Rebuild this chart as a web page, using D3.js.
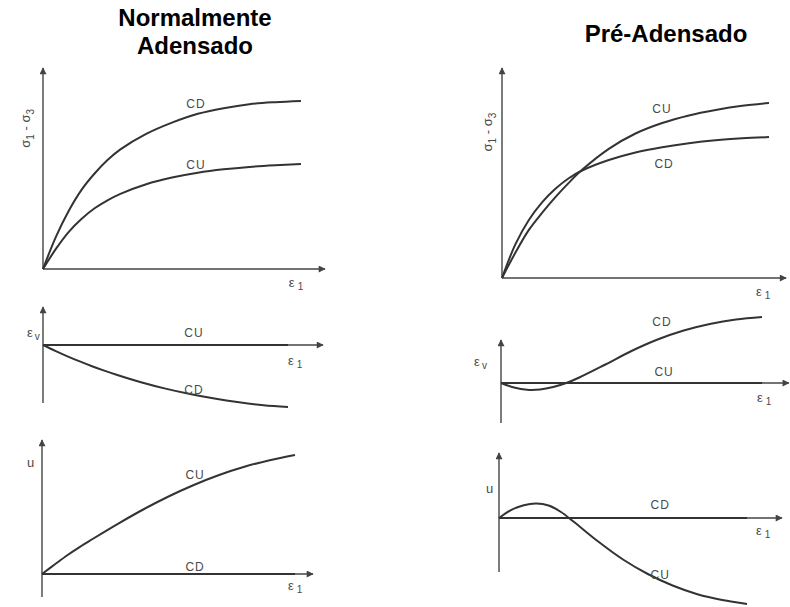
<!DOCTYPE html>
<html>
<head>
<meta charset="utf-8">
<script src="https://cdn.jsdelivr.net/npm/d3@7"></script>
<style>
  html, body { margin: 0; padding: 0; background: #fff; }
  svg { display: block; font-family: "Liberation Sans", Arial, Helvetica, sans-serif; }
  .title { font-weight: bold; font-size: 24px; fill: #000; }
  .curve-label { font-size: 12px; fill: #4a4a4a; letter-spacing: 1px; }
  .axis-label { font-size: 13px; fill: #4a4a4a; }
</style>
</head>
<body>
<div id="chart"></div>
<script>
// axial strain samples (arbitrary units, same for every panel)
const strain = [0, 0.5, 1, 1.5, 2, 2.5, 3, 4, 5, 6, 7, 8, 9, 10];

// Normalmente adensado
const ncDeviatorCD = [0, 1.6, 2.9, 3.95, 4.75, 5.42, 5.95, 6.72, 7.28, 7.72, 8.0, 8.2, 8.3, 8.36];
const ncDeviatorCU = [0, 1.0, 1.85, 2.5, 3.02, 3.42, 3.74, 4.22, 4.55, 4.79, 4.96, 5.08, 5.16, 5.22];
const ncVolumeCU   = [0, 0, 0, 0, 0, 0, 0, 0, 0, 0, 0, 0, 0, 0];
const ncVolumeCD   = [0, -0.58, -1.13, -1.64, -2.12, -2.56, -2.97, -3.72, -4.36, -4.9, -5.36, -5.73, -6.02, -6.2];
const ncPoreCU     = [0, 0.95, 1.88, 2.72, 3.5, 4.27, 5.02, 6.45, 7.75, 8.9, 9.9, 10.72, 11.38, 11.9];
const ncPoreCD     = [0, 0, 0, 0, 0, 0, 0, 0, 0, 0, 0, 0, 0, 0];

// Pré-adensado
const ocDeviatorCU = [0, 1.2, 2.28, 3.1, 3.85, 4.53, 5.15, 6.15, 6.88, 7.38, 7.74, 8.0, 8.2, 8.33];
const ocDeviatorCD = [0, 1.6, 2.75, 3.6, 4.25, 4.75, 5.12, 5.62, 5.98, 6.23, 6.42, 6.56, 6.65, 6.71];
const ocVolumeCD   = [0, -0.45, -0.68, -0.65, -0.4, 0, 0.55, 1.85, 3.2, 4.35, 5.25, 5.9, 6.35, 6.6];
const ocVolumeCU   = [0, 0, 0, 0, 0, 0, 0, 0, 0, 0, 0, 0, 0, 0];
const ocPoreCD     = [0, 0, 0, 0, 0, 0, 0, 0, 0, 0, 0, 0, 0, 0];
const ocPoreCU     = [0, 0.82, 1.28, 1.44, 1.25, 0.6, -0.35, -2.35, -4.15, -5.6, -6.75, -7.62, -8.2, -8.6];

const titles = [["Normalmente", "Adensado"], ["Pré-Adensado"]];
const seriesNames = ["CD", "CU"];

const width = 790, height = 607;

const svg = d3.select("#chart")
    .append("svg")
    .attr("width", width)
    .attr("height", height);

// arrow head for the axes
svg.append("defs").append("marker")
    .attr("id", "arrow")
    .attr("viewBox", "0 0 10 10")
    .attr("refX", 9)
    .attr("refY", 5)
    .attr("markerWidth", 9)
    .attr("markerHeight", 7)
    .attr("markerUnits", "userSpaceOnUse")
    .attr("orient", "auto")
    .append("path")
    .attr("d", "M0,0 L10,5 L0,10 z")
    .attr("fill", "#444");

// titles
svg.append("text").attr("class", "title").attr("text-anchor", "middle")
    .attr("x", 195).attr("y", 26).text(titles[0][0]);
svg.append("text").attr("class", "title").attr("text-anchor", "middle")
    .attr("x", 195).attr("y", 54).text(titles[0][1]);
svg.append("text").attr("class", "title").attr("text-anchor", "middle")
    .attr("x", 666).attr("y", 42).text(titles[1][0]);

// one entry per small diagram; positions in pixels, label spots in data units
const panels = [
    { ox: 43, oy: 269, x10: 301, y10: 68, xMax: 10.93, yMin: 0, yMax: 10, yLabel: "dev",
      yLab: [-0.52, 7.0], xLab: [9.53, -0.9],
      series: [{ name: seriesNames[0], values: ncDeviatorCD, lab: [5.93, 8.0] },
               { name: seriesNames[1], values: ncDeviatorCU, lab: [5.93, 4.98] }] },
    { ox: 502, oy: 278, x10: 769, y10: 68, xMax: 10.64, yMin: 0, yMax: 10, yLabel: "dev",
      yLab: [-0.37, 6.95], xLab: [9.51, -0.86],
      series: [{ name: seriesNames[1], values: ocDeviatorCU, lab: [5.99, 7.86] },
               { name: seriesNames[0], values: ocDeviatorCD, lab: [6.07, 5.24] }] },
    { ox: 43, oy: 345, x10: 288, y10: 245, xMax: 11.43, yMin: -5.8, yMax: 3.8, yLabel: "ev",
      yLab: [-0.65, 0.8], xLab: [10.0, -2.0],
      series: [{ name: seriesNames[1], values: ncVolumeCU, lab: [6.16, 0.8] },
               { name: seriesNames[0], values: ncVolumeCD, lab: [6.16, -4.9] }] },
    { ox: 501, oy: 383, x10: 762, y10: 283, xMax: 11.03, yMin: -4.0, yMax: 4.3, yLabel: "ev",
      yLab: [-1.03, 1.7], xLab: [9.81, -1.9],
      series: [{ name: seriesNames[0], values: ocVolumeCD, lab: [6.17, 5.7] },
               { name: seriesNames[1], values: ocVolumeCU, lab: [6.25, 0.7] }] },
    { ox: 42, oy: 574, x10: 295, y10: 474, xMax: 10.71, yMin: -2.3, yMax: 13.4, yLabel: "u",
      yLab: [-0.59, 10.7], xLab: [9.72, -1.6],
      series: [{ name: seriesNames[1], values: ncPoreCU, lab: [6.05, 9.5] },
               { name: seriesNames[0], values: ncPoreCD, lab: [6.05, 0.3] }] },
    { ox: 499, oy: 518, x10: 747, y10: 418, xMax: 11.41, yMin: -5.4, yMax: 6.5, yLabel: "u",
      yLab: [-0.52, 2.5], xLab: [10.36, -1.7],
      series: [{ name: seriesNames[0], values: ocPoreCD, lab: [6.5, 0.9] },
               { name: seriesNames[1], values: ocPoreCU, lab: [6.5, -6.1] }] }
];

panels.forEach(p => {
    const x = d3.scaleLinear().domain([0, 10]).range([p.ox, p.x10]);
    const y = d3.scaleLinear().domain([0, 10]).range([p.oy, p.y10]);
    const g = svg.append("g");

    // axes with arrows
    g.append("line")
        .attr("x1", x(0)).attr("y1", y(p.yMin))
        .attr("x2", x(0)).attr("y2", y(p.yMax))
        .attr("stroke", "#444").attr("stroke-width", 1.4)
        .attr("marker-end", "url(#arrow)");
    g.append("line")
        .attr("x1", x(0)).attr("y1", y(0))
        .attr("x2", x(p.xMax)).attr("y2", y(0))
        .attr("stroke", "#444").attr("stroke-width", 1.4)
        .attr("marker-end", "url(#arrow)");

    const line = d3.line()
        .x((d, i) => x(strain[i]))
        .y(d => y(d))
        .curve(d3.curveCatmullRom.alpha(0.5));

    g.selectAll("path.curve")
        .data(p.series)
        .enter()
        .append("path")
        .attr("class", "curve")
        .attr("d", d => line(d.values))
        .attr("fill", "none")
        .attr("stroke", "#333")
        .attr("stroke-width", 2);

    g.selectAll("text.curve-label")
        .data(p.series)
        .enter()
        .append("text")
        .attr("class", "curve-label")
        .attr("text-anchor", "middle")
        .attr("x", d => x(d.lab[0]))
        .attr("y", d => y(d.lab[1]))
        .text(d => d.name);

    // ε1 on the horizontal axis
    const xl = g.append("text")
        .attr("class", "axis-label")
        .attr("x", x(p.xLab[0]))
        .attr("y", y(p.xLab[1]));
    xl.append("tspan").text("ε");
    xl.append("tspan").attr("dx", 3).attr("dy", 3).attr("font-size", 10).text("1");

    // vertical axis label
    if (p.yLabel === "dev") {
        const yl = g.append("text")
            .attr("class", "axis-label")
            .attr("text-anchor", "middle")
            .attr("transform", `translate(${x(p.yLab[0])},${y(p.yLab[1])}) rotate(-90)`);
        yl.append("tspan").text("σ");
        yl.append("tspan").attr("dy", 4).attr("font-size", 10).text("1");
        yl.append("tspan").attr("dy", -4).text(" - σ");
        yl.append("tspan").attr("dy", 4).attr("font-size", 10).text("3");
    } else if (p.yLabel === "ev") {
        const yl = g.append("text")
            .attr("class", "axis-label")
            .attr("x", x(p.yLab[0]))
            .attr("y", y(p.yLab[1]));
        yl.append("tspan").text("ε");
        yl.append("tspan").attr("dx", 2).attr("dy", 3).attr("font-size", 10).text("v");
    } else {
        g.append("text")
            .attr("class", "axis-label")
            .attr("font-size", 12)
            .attr("x", x(p.yLab[0]))
            .attr("y", y(p.yLab[1]))
            .text("u");
    }
});
</script>
</body>
</html>
